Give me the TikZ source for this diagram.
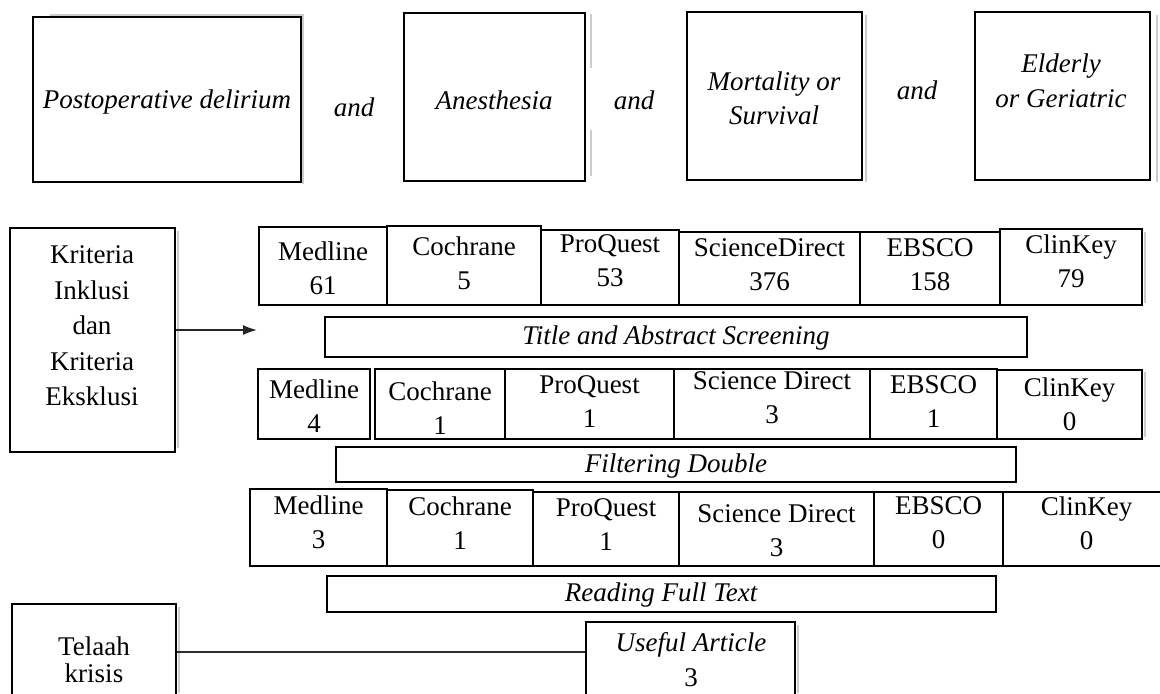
\documentclass[tikz,border=0pt]{standalone}
\usepackage{fontspec}
\setmainfont{Liberation Serif}
\usetikzlibrary{fit,arrows.meta}
\newcommand\flowsize{\fontsize{13.5}{17}\selectfont}

\begin{document}
\begin{tikzpicture}[
        x=0.5pt,
        y=-0.5pt,
        font=\flowsize,
        box/.style={draw=black, line width=1pt, inner sep=0pt},
        txt/.style={align=center, inner sep=0pt},
        ital/.style={txt, font=\flowsize\itshape},
        shade line/.style={gray!40, line width=1.1pt},
        line join=miter
    ]
        \useasboundingbox (0,0) rectangle (1160,693);
        \clip (0,0) rectangle (1160,693);
        \fill[white] (0,0) rectangle (1160,693);

        % 三行数据库框的底边
        \def\bA{305}
        \def\bB{439}
        \def\bC{566}

        % 扫描件留下的浅灰阴影
        \draw[shade line] (50,15) -- (303,15) -- (303,184);
        \draw[shade line] (591,14) -- (591,68) (591,130) -- (591,176);
        \draw[shade line] (866,15) -- (866,182);
        \draw[shade line] (1157,15) -- (1157,182);
        \draw[shade line] (178,231) -- (178,448);
        \draw[shade line] (1145,232) -- (1145,303) (1145,372) -- (1145,437);
        \draw[shade line] (179,607) -- (179,693);
        \draw[shade line] (798,625) -- (798,693);

        % 检索关键词
        \node[box, fit={(33,17) (301,182)}] (post) {};
        \node[ital] (postText) at (167,102) {Postoperative delirium};
        \node[box, fit={(404,13) (585,181)}] (anes) {};
        \node[ital] (anesText) at (494,100) {Anesthesia};
        \node[box, fit={(687,12) (862,180)}] (mort) {};
        \node[ital] (mortText) at (774,98) {Mortality or\\Survival};
        \node[box, fit={(975,12) (1150,180)}] (eld) {};
        \node[ital, font=\fontsize{13.5}{17.5}\selectfont\itshape] (eldText) at (1061,81) {Elderly\\or Geriatric};
        \node[ital] (andA) at (354,107) {and};
        \node[ital] (andB) at (634,100) {and};
        \node[ital] (andC) at (917,90) {and};

        % 第一行：检索结果
        \foreach \nm/\xa/\ya/\xb/\ty/\lab in {
            medA/259/227/387/268/{Medline\\61},
            cocA/387/226/541/263/{Cochrane\\5},
            proA/541/230/679/261/{ProQuest\\53},
            sciA/679/232/860/265/{ScienceDirect\\376},
            ebsA/860/232/1000/265/{EBSCO\\158},
            cliA/1000/229/1142/261/{ClinKey\\79}} {
            \node[box, fit={(\xa,\ya) (\xb,\bA)}] (\nm) {};
            \node[txt] (\nm-t) at ({(\xa+\xb)/2},\ty) {\lab};
        }
        \node[box, fit={(325,317) (1027,357)}] (screen) {};
        \node[ital] (screenText) at (676,338) {Title and Abstract Screening};

        % 第二行
        \foreach \nm/\xa/\ya/\xb/\ty/\lab in {
            medB/258/369/370/406/{Medline\\4},
            cocB/375/369/505/408/{Cochrane\\1},
            proB/505/369/674/402/{ProQuest\\1},
            sciB/674/369/870/398/{Science Direct\\3},
            ebsB/870/369/997/402/{EBSCO\\1},
            cliB/997/370/1142/404/{ClinKey\\0}} {
            \node[box, fit={(\xa,\ya) (\xb,\bB)}] (\nm) {};
            \node[txt] (\nm-t) at ({(\xa+\xb)/2},\ty) {\lab};
        }
        \node[box, fit={(336,447) (1016,482)}] (filt) {};
        \node[ital] (filtText) at (676,466) {Filtering Double};

        % 第三行
        \foreach \nm/\xa/\ya/\xb/\ty/\lab in {
            medC/250/489/387/522/{Medline\\3},
            cocC/387/490/533/523/{Cochrane\\1},
            proC/533/492/679/525/{ProQuest\\1},
            sciC/679/492/874/531/{Science Direct\\3},
            ebsC/874/492/1003/523/{EBSCO\\0},
            cliC/1003/492/1170/523/{ClinKey\\0}} {
            \node[box, fit={(\xa,\ya) (\xb,\bC)}] (\nm) {};
            \node[txt] (\nm-t) at ({(\xa+\xb)/2},\ty) {\lab};
        }
        \node[box, fit={(327,576) (996,612)}] (read) {};
        \node[ital] (readText) at (661,595) {Reading Full Text};

        % 纳入与排除标准
        \node[box, fit={(10,228) (175,452)}] (krit) {};
        \node[txt, font=\fontsize{13.5}{17.75}\selectfont] (kritText) at (92,326)
            {Kriteria\\Inklusi\\dan\\Kriteria\\Eksklusi};
        \coordinate (kritTip) at (257,330);
        \draw[gray!30!black, line width=0.8pt, -{Latex[length=7pt,width=5pt]}]
            (krit.east |- kritTip) -- (kritTip);

        % 文献评价
        \node[box, fit={(11.5,604) (176,700)}] (tel) {};
        \node[txt, font=\fontsize{13.5}{13.5}\selectfont] (telText) at (94,660) {Telaah\\krisis};
        \node[box, fit={(586,622) (795,700)}] (useful) {};
        \node[txt, font=\fontsize{13.5}{17.5}\selectfont] (usefulText) at (691,660)
            {{\itshape Useful Article}\\3};
        \draw[gray!35!black, line width=1pt] (tel.east) -- (tel.east -| useful.west);
    \end{tikzpicture}
\end{document}
